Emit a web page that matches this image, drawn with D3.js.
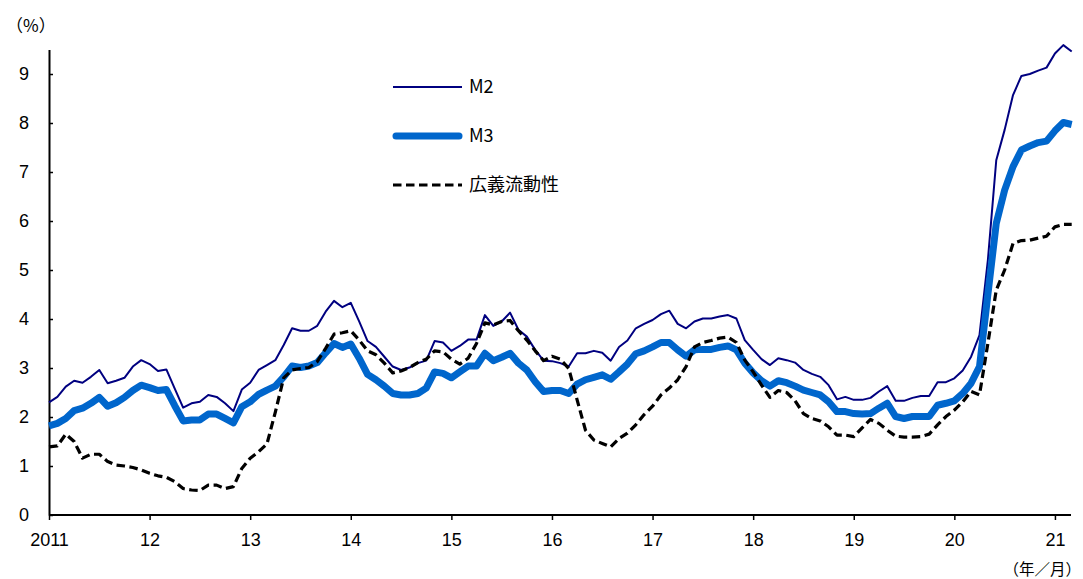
<!DOCTYPE html>
<html>
<head>
<meta charset="utf-8">
<script src="https://cdn.jsdelivr.net/npm/d3@7"></script>
<style>
	body { margin: 0; background: #fff; }
	svg text { font-family: "Liberation Sans", "Noto Sans CJK JP", sans-serif; fill: #000; }
	.cjk { font-family: "Noto Sans CJK JP", sans-serif; }
</style>
</head>
<body>
<div id="chart"></div>
<script>
/* **************************************************************************
 * Money stock growth (y/y %), monthly, 2011/01 - 2021/03
 * **************************************************************************/

// month index 0 = 2011/01, 122 = 2021/03
var yearTicks = [0, 12, 24, 36, 48, 60, 72, 84, 96, 108, 120];
var yearLabels = ["2011", "12", "13", "14", "15", "16", "17", "18", "19", "20", "21"];
var yTicks = [0, 1, 2, 3, 4, 5, 6, 7, 8, 9];

var seriesNames = ["M2", "M3", "広義流動性"];

var m2 = [
	2.30, 2.41, 2.62, 2.74, 2.70, 2.82, 2.96, 2.69, 2.74, 2.80, 3.03, 3.16,
	3.08, 2.94, 2.97, 2.58, 2.19, 2.28, 2.31, 2.45, 2.41, 2.28, 2.12, 2.56,
	2.70, 2.96, 3.06, 3.16, 3.47, 3.81, 3.76, 3.76, 3.86, 4.15, 4.37, 4.24,
	4.33, 3.95, 3.55, 3.43, 3.23, 3.03, 2.96, 3.01, 3.10, 3.15, 3.55, 3.52,
	3.35, 3.45, 3.58, 3.58, 4.08, 3.86, 3.95, 4.13, 3.78, 3.64, 3.37, 3.15,
	3.14, 3.10, 3.03, 3.30, 3.30, 3.35, 3.31, 3.15, 3.43, 3.56, 3.81, 3.90,
	3.98, 4.10, 4.17, 3.90, 3.81, 3.95, 4.01, 4.01, 4.05, 4.08, 4.01, 3.57,
	3.37, 3.18, 3.06, 3.20, 3.16, 3.11, 2.96, 2.88, 2.82, 2.65, 2.36, 2.41,
	2.35, 2.35, 2.39, 2.52, 2.63, 2.33, 2.33, 2.39, 2.43, 2.43, 2.71, 2.71,
	2.79, 2.95, 3.23, 3.67, 5.20, 7.24, 7.86, 8.57, 8.96, 9.00, 9.07, 9.13,
	9.42, 9.59, 9.46
];

var m3 = [
	1.82, 1.87, 1.97, 2.13, 2.18, 2.28, 2.40, 2.22, 2.29, 2.40, 2.54, 2.65,
	2.60, 2.54, 2.56, 2.23, 1.92, 1.94, 1.94, 2.06, 2.06, 1.97, 1.88, 2.21,
	2.31, 2.46, 2.55, 2.63, 2.82, 3.04, 3.01, 3.04, 3.11, 3.31, 3.50, 3.42,
	3.49, 3.20, 2.87, 2.76, 2.63, 2.48, 2.45, 2.45, 2.48, 2.59, 2.92, 2.89,
	2.80, 2.92, 3.04, 3.04, 3.30, 3.15, 3.22, 3.30, 3.10, 2.96, 2.72, 2.52,
	2.54, 2.54, 2.48, 2.67, 2.76, 2.81, 2.86, 2.77, 2.92, 3.08, 3.29, 3.35,
	3.43, 3.52, 3.52, 3.37, 3.24, 3.37, 3.38, 3.38, 3.42, 3.45, 3.37, 3.10,
	2.90, 2.74, 2.63, 2.74, 2.70, 2.63, 2.55, 2.50, 2.45, 2.31, 2.11, 2.11,
	2.07, 2.06, 2.07, 2.18, 2.28, 2.01, 1.97, 2.01, 2.01, 2.01, 2.24, 2.28,
	2.33, 2.48, 2.69, 3.03, 4.50, 5.95, 6.63, 7.11, 7.45, 7.53, 7.60, 7.63,
	7.84, 8.01, 7.97
];

var broad = [
	1.39, 1.41, 1.65, 1.50, 1.16, 1.24, 1.24, 1.09, 1.02, 1.00, 0.97, 0.92,
	0.85, 0.80, 0.77, 0.68, 0.54, 0.51, 0.50, 0.61, 0.61, 0.54, 0.58, 0.95,
	1.16, 1.29, 1.45, 2.10, 2.80, 2.96, 2.99, 3.01, 3.13, 3.40, 3.69, 3.72,
	3.76, 3.57, 3.35, 3.27, 3.10, 2.90, 2.94, 3.01, 3.11, 3.18, 3.35, 3.33,
	3.18, 3.08, 3.20, 3.50, 3.92, 3.88, 3.95, 3.97, 3.76, 3.57, 3.35, 3.15,
	3.24, 3.18, 2.99, 2.35, 1.73, 1.53, 1.46, 1.39, 1.56, 1.67, 1.84, 2.05,
	2.22, 2.45, 2.59, 2.76, 3.03, 3.43, 3.52, 3.56, 3.61, 3.63, 3.52, 3.16,
	2.92, 2.65, 2.40, 2.54, 2.50, 2.33, 2.07, 1.97, 1.92, 1.80, 1.63, 1.63,
	1.60, 1.78, 1.95, 1.87, 1.73, 1.61, 1.59, 1.59, 1.60, 1.65, 1.84, 2.01,
	2.14, 2.31, 2.52, 2.45, 3.50, 4.59, 5.00, 5.54, 5.60, 5.61, 5.65, 5.69,
	5.88, 5.93, 5.93
];

var seriesValues = [m2, m3, broad];

/* **************************************************************************
 * drawChart                                                    */ /**
 *
 * Draw the axes, the three lines and the legend.
 *
 ****************************************************************************/
function drawChart()
{
	var width = 1083, height = 579;

	var svg = d3.select("#chart").append("svg")
		.attr("width", width)
		.attr("height", height);

	var x = d3.scaleLinear().domain([0, 122]).range([49, 1071.7]);
	var y = d3.scaleLinear().domain([0, 9.5]).range([515, 49.5]);

	// line styles per series, same order as seriesNames
	var styles = [
		{color: "#000080", width: 2, dash: null},
		{color: "#0066CC", width: 7, dash: null},
		{color: "#000000", width: 3.2, dash: "8.5,4.5"}
	];

	// x axis
	var xAxis = d3.axisBottom(x)
		.tickValues(yearTicks)
		.tickFormat(function (d, i) { return yearLabels[i]; })
		.tickSizeInner(5)
		.tickSizeOuter(0)
		.tickPadding(13);

	var gx = svg.append("g")
		.attr("transform", "translate(0," + y(0) + ")")
		.call(xAxis);
	gx.select(".domain").attr("stroke-width", 2).attr("d", "M49,0H1071");
	gx.selectAll(".tick line").attr("stroke-width", 1.5);
	gx.selectAll(".tick text").style("font-size", "18px");

	// y axis, ticks pointing inward
	var yAxis = d3.axisLeft(y)
		.tickValues(yTicks)
		.tickFormat(d3.format("d"))
		.tickSizeInner(-4)
		.tickSizeOuter(0)
		.tickPadding(20);

	var gy = svg.append("g")
		.attr("transform", "translate(" + x(0) + ",0)")
		.call(yAxis);
	gy.select(".domain").attr("stroke-width", 2);
	gy.selectAll(".tick line").attr("stroke-width", 1.5);
	gy.selectAll(".tick text").style("font-size", "18px");

	// lines
	var line = d3.line()
		.x(function (d, i) { return x(i); })
		.y(function (d) { return y(d); });

	seriesValues.forEach(function (vals, k)
	{
		svg.append("path")
			.datum(vals)
			.attr("fill", "none")
			.attr("stroke", styles[k].color)
			.attr("stroke-width", styles[k].width)
			.attr("stroke-linejoin", "round")
			.attr("stroke-dasharray", styles[k].dash)
			.attr("d", line);
	});

	// legend
	var legendY = [87, 136, 185];
	seriesNames.forEach(function (name, k)
	{
		var g = svg.append("g").attr("transform", "translate(0," + legendY[k] + ")");
		g.append("line")
			.attr("x1", k === 1 ? 396 : 393).attr("x2", k === 1 ? 459 : 462)
			.attr("stroke", styles[k].color)
			.attr("stroke-width", styles[k].width)
			.attr("stroke-linecap", k === 1 ? "round" : "butt")
			.attr("stroke-dasharray", styles[k].dash);
		g.append("text")
			.attr("class", "cjk")
			.attr("x", 469)
			.attr("dy", "0.36em")
			.style("font-size", "18px")
			.text(name);
	});

	// unit labels
	svg.append("text")
		.attr("class", "cjk")
		.attr("x", 6).attr("y", 32)
		.style("font-size", "17px")
		.text("（%）");

	svg.append("text")
		.attr("class", "cjk")
		.attr("x", 1081).attr("y", 575)
		.attr("text-anchor", "end")
		.style("font-size", "15.5px")
		.text("（年／月）");
}

drawChart();
</script>
</body>
</html>
